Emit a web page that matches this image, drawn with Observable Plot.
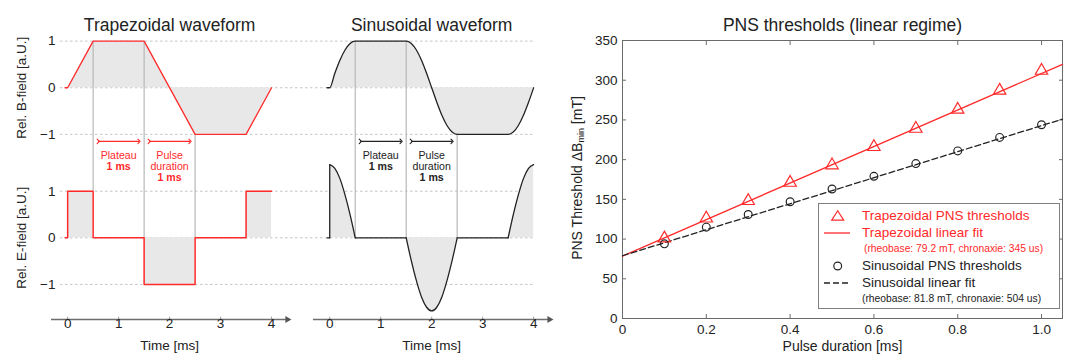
<!DOCTYPE html>
<html><head><meta charset="utf-8">
<script src="https://cdn.jsdelivr.net/npm/d3@7"></script>
<script src="https://cdn.jsdelivr.net/npm/@observablehq/plot@0.6"></script>
<style>
body{margin:0;background:#fff;font-family:"Liberation Sans",Arial,sans-serif;}
#wrap{position:relative;width:1070px;height:360px;overflow:hidden;background:#fff;}
#wave{position:absolute;left:0;top:0;}
#pns{position:absolute;left:560px;top:0;}
#ylab{position:absolute;left:577px;top:178px;transform:translate(-50%,-50%) rotate(-90deg);white-space:nowrap;font-size:14px;color:#222;}
#ylab sub{font-size:9px;vertical-align:-2px;}
#legend{position:absolute;left:818px;top:203px;width:242px;height:106px;border:1px solid #808080;background:#fff;box-sizing:border-box;}
#legend svg{position:absolute;left:0;top:0;}
.lg{position:absolute;white-space:nowrap;line-height:1;transform:translateY(-50%);}
.big{font-size:13.5px;}
.small{font-size:10.3px;}
</style></head><body>
<div id="wrap">
  <div id="wave"></div>
  <div id="pns"></div>
  <div id="ylab">PNS Threshold ΔB<sub>min</sub> [mT]</div>
  <div id="legend"></div>
</div>
<script>
// ---------------- data ----------------
// Trapezoidal waveform (time in ms)
const trapBT = [-0.05, 0, 0.5, 1.5, 2.5, 3.5, 4];
const trapB  = [0, 0, 1, 1, -1, -1, 0];
const trapET = [-0.05, 0, 0, 0.5, 0.5, 1.5, 1.5, 2.5, 2.5, 3.5, 3.5, 4];
const trapE  = [0, 0, 1, 1, 0, 0, -1, -1, 0, 0, 1, 1];
// Sinusoidal waveform
const sinBT = [-0.05, 0, 0.1, 0.2, 0.3, 0.4, 0.5, 1.5, 1.6, 1.7, 1.8, 1.9, 2.0, 2.1, 2.2, 2.3, 2.4, 2.5, 3.5, 3.6, 3.7, 3.8, 3.9, 4.0];
const sinB  = [0, 0, 0.31, 0.59, 0.81, 0.95, 1, 1, 0.95, 0.81, 0.59, 0.31, 0, -0.31, -0.59, -0.81, -0.95, -1, -1, -0.95, -0.81, -0.59, -0.31, 0];
const sinET = [-0.05, 0,  0, 0,  0, 0.1, 0.2, 0.3, 0.4, 0.5,  0.5, 1.5,  1.5, 1.6, 1.7, 1.8, 1.9, 2.0, 2.1, 2.2, 2.3, 2.4, 2.5,  2.5, 3.5,  3.5, 3.6, 3.7, 3.8, 3.9, 4.0];
const sinE  = [0, 0,  0, 1.57,  1.57, 1.49, 1.27, 0.92, 0.49, 0,  0, 0,  0, -0.49, -0.92, -1.27, -1.49, -1.57, -1.49, -1.27, -0.92, -0.49, 0,  0, 0,  0, 0.49, 0.92, 1.27, 1.49, 1.57];
const sinESeg = [0, 0,  1, 1,  2, 2, 2, 2, 2, 2,  3, 3,  4, 4, 4, 4, 4, 4, 4, 4, 4, 4, 4,  5, 5,  6, 6, 6, 6, 6, 6];
// vertical guide lines
const edgeT     = [0.5, 1.5, 2.5];
const trapEdgeB = [1, 1, -1];
const trapEdgeE = [1, 0, 0];
const sinEdgeB  = [1, 1, -1];
const sinEdgeE  = [0, 0, 0];
// intervals (plateau, pulse duration)
const intervalStart = [0.5, 1.5];
const intervalEnd   = [1.5, 2.5];
const annotT    = [1, 1, 2, 2, 2];
const annotText = ["Plateau", "1 ms", "Pulse", "duration", "1 ms"];
const annotLine = [0, 1, 0, 1, 2];
const annotBold = [false, true, false, false, true];
const timeTicks  = [0, 1, 2, 3, 4];
const levelTicks = [-1, 0, 1];
const waveTitles = ["Trapezoidal waveform", "Sinusoidal waveform"];

// PNS thresholds
const pulseDur   = [0.1, 0.2, 0.3, 0.4, 0.5, 0.6, 0.7, 0.8, 0.9, 1.0];
const trapThresh = [101, 126, 148, 171, 193, 216, 239, 263, 287, 312];
const sinThresh  = [94, 115, 131, 147, 163, 179, 195, 211, 228, 244];
const fitX       = [0, 1.05];
const trapFit    = [78.5, 320];
const sinFit     = [79, 251];
const pnsXTicks  = [0, 0.2, 0.4, 0.6, 0.8, 1.0];
const pnsYTicks  = [0, 50, 100, 150, 200, 250, 300, 350];

// ---------------- styles / layout ----------------
const FONT = "'Liberation Sans', Arial, sans-serif";
const RED = "#ff2a2a", DARK = "#222", FILL = "#e8e8e8", GRID = "#c4c4c4", EDGE = "#b8b8b8", AXIS = "#6e6e6e";
const OFF_B = 3.22;     // vertical offset of B-field row (in E units)
const OFF_S = 5.141;    // horizontal offset of sinusoidal panel (ms)
const X_MIN = -0.317, X_MAX = 9.511, Y_MIN = -1.753, Y_MAX = 4.663;

const rows = (T, V) => T.map((t, i) => ({t, v: V[i]}));
const trapBData = rows(trapBT, trapB);
const trapEData = rows(trapET, trapE);
const sinBData = rows(sinBT, sinB);
const sinEData = sinET.map((t, i) => ({t, v: sinE[i], s: sinESeg[i]}));
const gridRows = levelTicks.flatMap(v => [{y: v, label: v}, {y: v + OFF_B, label: v}]);
const fmtLevel = v => v < 0 ? "\u2212" + Math.abs(v) : String(v);
const intervals = intervalStart.map((s, i) => ({s, e: intervalEnd[i]}));
const annots = annotT.map((t, i) => ({t, text: annotText[i], line: annotLine[i], bold: annotBold[i]}));

function panelMarks(off, color, edgesB, edgesE, title) {
  const marks = [];
  const edges = edgeT.map((t, i) => ({t, b: edgesB[i], e: edgesE[i]}));
  marks.push(Plot.ruleX(edges, {x: d => d.t + off, y1: d => d.b + OFF_B, y2: d => d.e, stroke: EDGE, strokeWidth: 1.2}));
  marks.push(Plot.link(intervals, {x1: d => d.s + 0.1 + off, x2: d => d.e - 0.1 + off, y1: OFF_B - 1, y2: OFF_B - 1, dy: 7,
    stroke: color, strokeWidth: 1.1, markerStart: "arrow", markerEnd: "arrow"}));
  for (const line of [0, 1, 2]) for (const bold of [false, true]) {
    const sel = annots.filter(a => a.line === line && a.bold === bold);
    if (!sel.length) continue;
    marks.push(Plot.text(sel, {x: d => d.t + off, y: OFF_B - 1, dy: 21 + 11 * line, text: "text", fill: color,
      fontSize: 10.6, fontWeight: bold ? "bold" : "normal"}));
  }
  // x axis with arrow
  const x0 = off === 0 ? X_MIN : off - 0.32;
  const x1 = off === 0 ? 4.37 : X_MAX;
  marks.push(Plot.ruleY([Y_MIN], {x1: x0, x2: x1 - 0.05, stroke: AXIS, strokeWidth: 1.5}));
  marks.push(Plot.dot([x1], {x: d => d - 0.06, y: Y_MIN, symbol: "triangle", rotate: 90, r: 2.6, fill: "#555", stroke: "none"}));
  marks.push(Plot.ruleX(timeTicks, {x: d => d + off, y1: Y_MIN, y2: Y_MIN + 0.05, stroke: "#999"}));
  marks.push(Plot.text(timeTicks, {x: d => d + off, frameAnchor: "bottom", dy: 8, text: d => String(d), fontSize: 13.5, fill: DARK}));
  marks.push(Plot.text(["Time [ms]"], {x: 2 + off, frameAnchor: "bottom", dy: 30, fontSize: 13.5, fill: DARK}));
  marks.push(Plot.text([title], {x: 2 + off, frameAnchor: "top", dy: -2, fontSize: 17.5, fill: DARK}));
  return marks;
}

const wave = Plot.plot({
  width: 560, height: 360,
  marginLeft: 51, marginRight: 8, marginTop: 20, marginBottom: 41,
  x: {domain: [X_MIN, X_MAX], axis: null},
  y: {domain: [Y_MIN, Y_MAX], axis: null},
  style: {fontFamily: FONT, background: "transparent", overflow: "visible"},
  marks: [
    Plot.ruleY(gridRows, {y: "y", x1: -0.14, x2: 4 + OFF_S, stroke: GRID, strokeDasharray: "2.5,2.5"}),
    Plot.areaY(trapBData, {x: "t", y1: OFF_B, y2: d => d.v + OFF_B, fill: FILL}),
    Plot.areaY(trapEData, {x: "t", y1: 0, y2: "v", fill: FILL}),
    Plot.areaY(sinBData, {x: d => d.t + OFF_S, y1: OFF_B, y2: d => d.v + OFF_B, fill: FILL, curve: "monotone-x"}),
    Plot.areaY(sinEData, {x: d => d.t + OFF_S, y1: 0, y2: "v", z: "s", fill: FILL, curve: "monotone-x"}),
    ...panelMarks(0, RED, trapEdgeB, trapEdgeE, waveTitles[0]),
    ...panelMarks(OFF_S, DARK, sinEdgeB, sinEdgeE, waveTitles[1]),
    Plot.line(trapBData, {x: "t", y: d => d.v + OFF_B, stroke: RED, strokeWidth: 1.3}),
    Plot.line(trapEData, {x: "t", y: "v", stroke: RED, strokeWidth: 1.5}),
    Plot.line(sinBData, {x: d => d.t + OFF_S, y: d => d.v + OFF_B, stroke: DARK, strokeWidth: 1.3, curve: "monotone-x"}),
    Plot.line(sinEData, {x: d => d.t + OFF_S, y: "v", z: "s", stroke: DARK, strokeWidth: 1.3, curve: "monotone-x"}),
    Plot.text(gridRows, {x: -0.14, y: "y", text: d => fmtLevel(d.label), textAnchor: "end", dx: -5, fontSize: 13.5, fill: DARK}),
    Plot.text(["Rel. B-field [a.U.]"], {frameAnchor: "left", y: OFF_B, dx: -30, rotate: -90, textAnchor: "middle", fontSize: 13.5, fill: DARK}),
    Plot.text(["Rel. E-field [a.U.]"], {frameAnchor: "left", y: 0, dx: -30, rotate: -90, textAnchor: "middle", fontSize: 13.5, fill: DARK})
  ]
});
document.getElementById("wave").appendChild(wave);

// ---------------- PNS plot ----------------
const trapPts = pulseDur.map((x, i) => ({x, y: trapThresh[i]}));
const sinPts = pulseDur.map((x, i) => ({x, y: sinThresh[i]}));
const trapLine = fitX.map((x, i) => ({x, y: trapFit[i]}));
const sinLine = fitX.map((x, i) => ({x, y: sinFit[i]}));
const fmtX = d => d === 0 ? "0" : d.toFixed(1);

const pns = Plot.plot({
  width: 510, height: 360,
  marginLeft: 62, marginRight: 8, marginTop: 40, marginBottom: 42,
  x: {domain: [0, 1.05]},
  y: {domain: [0, 350]},
  style: {fontFamily: FONT, fontSize: "13.5px", color: DARK, background: "transparent", overflow: "visible"},
  marks: [
    Plot.frame({stroke: "#6a6a6a", strokeWidth: 1}),
    Plot.axisX({ticks: pnsXTicks, tickSize: 0, tickPadding: 6, tickFormat: fmtX, label: null, fontSize: 13.5}),
    Plot.axisX({ticks: pnsXTicks, tickSize: -4, tickFormat: () => "", label: null, stroke: "#6a6a6a"}),
    Plot.axisX({anchor: "top", ticks: pnsXTicks, tickSize: -4, tickFormat: () => "", label: null, stroke: "#6a6a6a"}),
    Plot.axisY({ticks: pnsYTicks, tickSize: 0, tickPadding: 5, label: null, fontSize: 13.5}),
    Plot.axisY({ticks: pnsYTicks, tickSize: -4, tickFormat: () => "", label: null, stroke: "#6a6a6a"}),
    Plot.axisY({anchor: "right", ticks: pnsYTicks, tickSize: -4, tickFormat: () => "", label: null, stroke: "#6a6a6a"}),
    Plot.line(trapLine, {x: "x", y: "y", stroke: RED, strokeWidth: 1.3}),
    Plot.line(sinLine, {x: "x", y: "y", stroke: DARK, strokeWidth: 1.3, strokeDasharray: "6,3"}),
    Plot.dot(trapPts, {x: "x", y: "y", symbol: "triangle", r: 4.6, stroke: RED, fill: "none", strokeWidth: 1.2}),
    Plot.dot(sinPts, {x: "x", y: "y", symbol: "circle", r: 3.9, stroke: DARK, fill: "none", strokeWidth: 1.2}),
    Plot.text(["PNS thresholds (linear regime)"], {frameAnchor: "top", dy: -22, fontSize: 17.5, fill: DARK}),
    Plot.text(["Pulse duration [ms]"], {frameAnchor: "bottom", dy: 32, fontSize: 14, fill: DARK})
  ]
});
document.getElementById("pns").appendChild(pns);

// ---------------- legend ----------------
const legendEntries = [
  {sym: "triangle", color: RED, text: "Trapezoidal PNS thresholds", cls: "big", y: 12},
  {sym: "solid", color: RED, text: "Trapezoidal linear fit", cls: "big", y: 29},
  {sym: null, color: RED, text: "(rheobase: 79.2 mT, chronaxie: 345 us)", cls: "small", y: 45, x: 45},
  {sym: "circle", color: DARK, text: "Sinusoidal PNS thresholds", cls: "big", y: 62},
  {sym: "dashed", color: DARK, text: "Sinusoidal linear fit", cls: "big", y: 79},
  {sym: null, color: DARK, text: "(rheobase: 81.8 mT, chronaxie: 504 us)", cls: "small", y: 94.5, x: 43}
];
const leg = document.getElementById("legend");
const svgNS = "http://www.w3.org/2000/svg";
const lsvg = document.createElementNS(svgNS, "svg");
lsvg.setAttribute("width", 242); lsvg.setAttribute("height", 106);
for (const e of legendEntries) {
  if (e.sym === "triangle") {
    const p = document.createElementNS(svgNS, "path");
    p.setAttribute("d", `M12.7,${e.y + 4.2}L24.7,${e.y + 4.2}L18.7,${e.y - 5.2}Z`);
    p.setAttribute("fill", "none"); p.setAttribute("stroke", e.color); p.setAttribute("stroke-width", 1.2);
    lsvg.appendChild(p);
  } else if (e.sym === "circle") {
    const c = document.createElementNS(svgNS, "circle");
    c.setAttribute("cx", 18.7); c.setAttribute("cy", e.y); c.setAttribute("r", 3.9);
    c.setAttribute("fill", "none"); c.setAttribute("stroke", e.color); c.setAttribute("stroke-width", 1.2);
    lsvg.appendChild(c);
  } else if (e.sym) {
    const l = document.createElementNS(svgNS, "line");
    l.setAttribute("x1", 5); l.setAttribute("x2", 31); l.setAttribute("y1", e.y); l.setAttribute("y2", e.y);
    l.setAttribute("stroke", e.color); l.setAttribute("stroke-width", 1.3);
    if (e.sym === "dashed") l.setAttribute("stroke-dasharray", "6,3");
    lsvg.appendChild(l);
  }
  const d = document.createElement("div");
  d.className = "lg " + e.cls;
  d.style.left = (e.x || 43) + "px";
  d.style.top = e.y + "px";
  d.style.color = e.color;
  d.textContent = e.text;
  leg.appendChild(d);
}
leg.insertBefore(lsvg, leg.firstChild);
</script>
</body></html>
